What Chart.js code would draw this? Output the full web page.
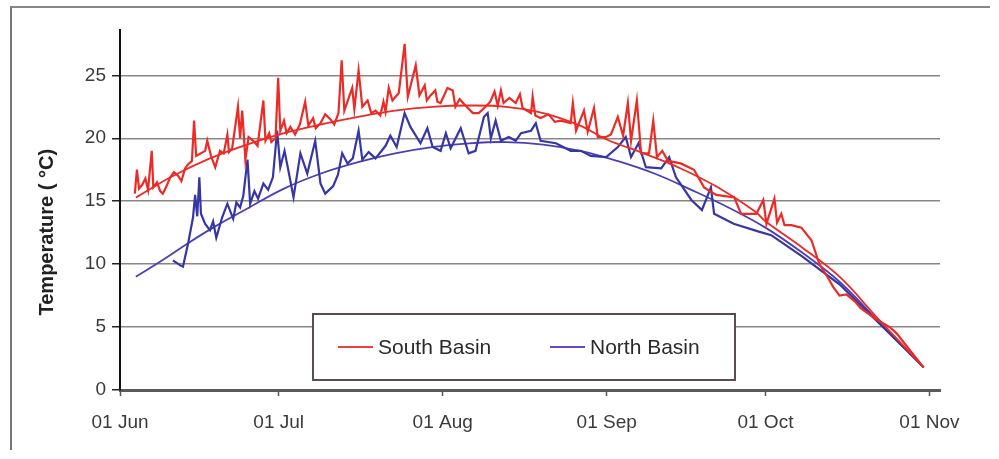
<!DOCTYPE html>
<html lang="en">

<head>
    <meta charset="UTF-8">
    <title>Temperature</title>
    <script src="https://cdn.jsdelivr.net/npm/chart.js"></script>
    <style>
        body { margin: 0; background: #fff; }
        .wrap { position: relative; width: 999px; height: 459px; }
        .frame { position: absolute; left: 10px; top: 6px; width: 978px; height: 442px;
                 border-left: 2px solid #777; border-top: 2px solid #888;
                 pointer-events: none; }
    </style>
</head>

<body>
    <div class="wrap">
        <canvas id="myChart" width="999" height="459"></canvas>
        <div class="frame"></div>
    </div>

    <script>
        // day 0 = 01 Jun
        const monthDays = [0, 30, 61, 92, 122, 153];
        const monthLabels = ['01 Jun', '01 Jul', '01 Aug', '01 Sep', '01 Oct', '01 Nov'];
        const yTicks = [0, 5, 10, 15, 20, 25];

        // South Basin logger (noisy)
        const southDays = [2.8, 3.2, 3.6, 4.2, 4.8, 5.3, 6.0, 6.3, 7.0, 7.6, 8.1, 8.8, 9.5, 10.2, 11.0, 11.6, 12.3, 12.8, 13.6, 14.0, 14.4, 16.1, 16.5, 17.2, 18.0, 18.9, 19.6, 20.3, 20.6, 21.2, 22.3, 22.7, 23.1, 23.7, 24.3, 25.2, 26.0, 27.1, 27.5, 28.2, 28.6, 29.4, 29.9, 30.3, 31.0, 31.5, 32.2, 33.1, 34.0, 35.0, 35.6, 36.5, 37.0, 37.9, 38.8, 39.8, 40.5, 41.3, 41.9, 42.4, 43.9, 44.3, 45.1, 45.8, 46.8, 47.5, 48.3, 49.2, 49.8, 50.2, 50.8, 51.5, 52.7, 53.8, 54.4, 55.9, 56.6, 57.6, 58.0, 58.7, 59.6, 60.0, 60.6, 61.9, 62.9, 63.4, 64.2, 65.3, 66.7, 67.8, 69.1, 70.0, 70.8, 71.4, 72.0, 72.5, 73.6, 74.8, 75.6, 76.1, 77.7, 78.0, 78.5, 79.5, 81.0, 82.2, 83.3, 85.2, 85.6, 86.2, 87.7, 88.4, 89.6, 90.3, 91.9, 92.8, 94.1, 95.1, 96.0, 96.6, 97.7, 98.5, 100, 100.8, 101.5, 102.5, 103.6, 106, 108.5, 110.4, 112.7, 116.1, 117.4, 120.3, 121.6, 122.2, 123.7, 124.2, 125.0, 125.6, 126.9, 128.8, 130.7, 132.2, 133.7, 134.8, 136.0, 137.3, 139, 140, 143, 145.5, 146.8, 149.6, 151.9];
        const southTemp = [15.6, 17.5, 16.0, 16.3, 16.8, 15.9, 19.0, 16.1, 16.5, 15.8, 15.6, 16.2, 16.9, 17.3, 17.0, 16.6, 17.6, 17.9, 18.2, 21.4, 18.6, 19.0, 19.8, 18.6, 17.7, 19.0, 18.8, 20.3, 18.9, 19.2, 22.5, 20.0, 22.2, 18.3, 20.1, 19.8, 19.4, 23.0, 19.8, 20.4, 19.7, 20.0, 24.8, 20.6, 21.4, 20.4, 20.9, 20.3, 21.1, 22.9, 21.0, 21.6, 20.8, 21.2, 21.9, 21.5, 21.1, 22.0, 26.2, 22.2, 24.0, 22.3, 25.4, 22.5, 23.0, 22.0, 22.2, 21.8, 22.9, 22.1, 24.0, 23.0, 23.6, 27.5, 23.3, 25.8, 23.4, 24.2, 23.0, 23.4, 23.8, 22.9, 22.8, 24.0, 23.8, 22.5, 23.1, 22.6, 22.0, 22.0, 22.5, 22.9, 23.7, 22.6, 23.8, 22.8, 23.2, 22.8, 23.5, 22.4, 22.0, 23.3, 21.8, 21.6, 21.9, 21.3, 21.4, 21.2, 22.8, 20.6, 22.2, 20.5, 22.4, 20.1, 20.1, 20.3, 21.7, 20.2, 22.8, 19.8, 23.0, 18.8, 18.8, 21.4, 18.5, 19.0, 18.2, 18.0, 17.5, 16.1, 15.5, 15.3, 14.0, 14.0, 15.1, 13.2, 15.2, 13.3, 14.0, 13.1, 13.1, 12.9, 11.9, 10.0, 9.0, 8.2, 7.5, 7.6, 7.0, 6.5, 5.6, 5.0, 4.5, 3.0, 1.8];

        // South Basin fitted curve
        const southFitDays = [3, 10, 17, 24, 31, 38, 45, 52, 59, 66, 73, 80, 87, 92, 99, 106, 113, 120, 122, 129, 136, 143, 151.9];
        const southFitTemp = [15.3, 17.0, 18.4, 19.5, 20.4, 21.1, 21.7, 22.2, 22.5, 22.6, 22.5, 22.0, 21.0, 19.9, 18.8, 17.6, 16.1, 14.2, 13.4, 11.3, 9.0, 5.8, 1.8];

        // North Basin logger (noisy)
        const northDays = [10, 11.4, 11.9, 12.9, 13.8, 14.2, 14.6, 15.0, 15.3, 16.1, 17.0, 17.6, 18.2, 19.3, 20.3, 21.4, 22.0, 22.7, 23.3, 24.1, 24.6, 25.4, 26.1, 27.1, 28.0, 28.9, 29.7, 30.3, 31.1, 31.8, 32.8, 34.1, 35.4, 36.9, 37.9, 38.8, 40.3, 41.2, 42.0, 43.0, 44.0, 45.1, 45.8, 47.0, 48.3, 50.2, 51.1, 52.3, 53.8, 54.9, 56.8, 58.1, 59.1, 60.6, 61.6, 62.5, 64.4, 65.9, 67.2, 68.8, 69.5, 70.1, 71.0, 72.0, 73.5, 74.8, 75.8, 77.7, 78.6, 79.5, 82.4, 85.2, 87.1, 89.0, 91.9, 94.1, 95.6, 96.6, 98, 99.4, 102.3, 103.8, 105.1, 108, 110, 111.7, 112.3, 116, 120.6, 123.1, 129, 136, 143, 151.9];
        const northTemp = [10.3, 9.9, 9.8, 11.7, 13.7, 15.5, 13.8, 16.9, 14.0, 13.2, 12.7, 13.4, 12.1, 13.7, 14.8, 13.6, 14.9, 14.5, 15.4, 18.3, 14.8, 15.8, 15.2, 16.4, 15.9, 16.9, 20.6, 17.7, 19.0, 17.5, 15.3, 18.8, 17.2, 19.8, 16.4, 15.6, 16.2, 17.1, 18.8, 18.0, 18.4, 20.6, 18.3, 18.9, 18.4, 19.4, 20.2, 19.3, 22.0, 20.9, 19.6, 20.8, 19.3, 19.0, 20.4, 19.2, 20.8, 18.8, 19.0, 21.7, 22.0, 20.0, 21.4, 19.8, 20.1, 19.8, 20.4, 20.6, 21.2, 19.8, 19.6, 19.0, 19.0, 18.6, 18.5, 19.3, 20.1, 18.5, 19.6, 17.7, 17.6, 18.5, 16.9, 15.1, 14.3, 16.1, 14.0, 13.2, 12.6, 12.3, 10.6, 8.4, 5.5, 1.8];

        // North Basin fitted curve
        const northFitDays = [3, 8, 13, 18, 24, 31, 38, 45, 52, 59, 66, 73, 80, 87, 94, 101, 108, 115, 122, 129, 136, 143, 151.9];
        const northFitTemp = [9.0, 10.3, 11.7, 13.0, 14.4, 16.0, 17.2, 18.1, 18.8, 19.3, 19.6, 19.7, 19.5, 19.0, 18.2, 17.2, 15.9, 14.5, 12.9, 10.9, 8.6, 5.6, 1.8];

        const red = '#ec2a26';
        const blue = '#3636a4';
        const fontFamily = '"Liberation Sans", Arial, sans-serif';

        const toPoints = (days, vals) => days.map((d, i) => ({ x: d, y: vals[i] }));

        const boxLegend = {
            id: 'boxLegend',
            afterDatasetsDraw(chart) {
                const c = chart.ctx;
                const a = chart.chartArea;
                const x = a.left + 193, y = a.top + 284, w = 422, h = 66;
                c.save();
                c.fillStyle = '#fff';
                c.fillRect(x, y, w, h);
                c.strokeStyle = '#5b4d4d';
                c.lineWidth = 2;
                c.strokeRect(x, y, w, h);
                const items = chart.data.datasets.filter(ds => ds.showInLegend);
                const cy = y + 33;
                const starts = [x + 25, x + 237];
                items.forEach((ds, i) => {
                    c.strokeStyle = ds.legendColor;
                    c.lineWidth = 2;
                    c.beginPath();
                    c.moveTo(starts[i], cy);
                    c.lineTo(starts[i] + 35, cy);
                    c.stroke();
                    c.fillStyle = '#2a2a2a';
                    c.font = '21px ' + fontFamily;
                    c.textBaseline = 'middle';
                    c.fillText(ds.label, starts[i] + 40, cy + 1);
                });
                c.restore();
            }
        };

        const ctx = document.getElementById('myChart');

        new Chart(ctx, {
            type: 'line',
            data: {
                datasets: [
                    { label: 'South Basin', data: toPoints(southDays, southTemp), borderColor: red, borderWidth: 2.2, pointRadius: 0, tension: 0, showInLegend: true, legendColor: '#e84444' },
                    { label: 'South fit', data: toPoints(southFitDays, southFitTemp), borderColor: red, borderWidth: 1.8, pointRadius: 0, tension: 0.4 },
                    { label: 'North Basin', data: toPoints(northDays, northTemp), borderColor: blue, borderWidth: 2.2, pointRadius: 0, tension: 0, showInLegend: true, legendColor: '#5a4ccc' },
                    { label: 'North fit', data: toPoints(northFitDays, northFitTemp), borderColor: '#4a40b4', borderWidth: 1.8, pointRadius: 0, tension: 0.4 }
                ]
            },
            options: {
                responsive: false,
                animation: false,
                layout: { padding: { top: 30, right: 59, left: 0, bottom: 0 } },
                plugins: { legend: { display: false }, tooltip: { enabled: false } },
                scales: {
                    x: {
                        type: 'linear',
                        min: 0,
                        max: 155,
                        afterBuildTicks: (scale) => { scale.ticks = monthDays.map(v => ({ value: v })); },
                        afterFit: (scale) => { scale.height = 69; },
                        ticks: {
                            autoSkip: false,
                            maxRotation: 0,
                            padding: 15,
                            color: '#3a3a3a',
                            font: { family: fontFamily, size: 19 },
                            callback: (v) => monthLabels[monthDays.indexOf(v)]
                        },
                        grid: { drawOnChartArea: false, drawTicks: true, tickLength: 6, tickColor: '#555', tickWidth: 1.5 },
                        border: { color: '#5a5a5a', width: 3 }
                    },
                    y: {
                        min: 0,
                        max: 28.6,
                        afterBuildTicks: (scale) => { scale.ticks = yTicks.map(v => ({ value: v })); },
                        afterFit: (scale) => { scale.width = 120; },
                        ticks: {
                            padding: 6,
                            color: '#3a3a3a',
                            font: { family: fontFamily, size: 19 }
                        },
                        grid: { color: '#8d8585', lineWidth: 1.5, tickLength: 8, tickColor: '#222' },
                        border: { color: '#111', width: 2 },
                        title: {
                            display: true,
                            text: 'Temperature ( °C)        ',
                            color: '#222',
                            padding: { top: 35, bottom: 0 },
                            font: { family: fontFamily, size: 20, weight: 'bold' }
                        }
                    }
                }
            },
            plugins: [boxLegend]
        });
    </script>
</body>

</html>
